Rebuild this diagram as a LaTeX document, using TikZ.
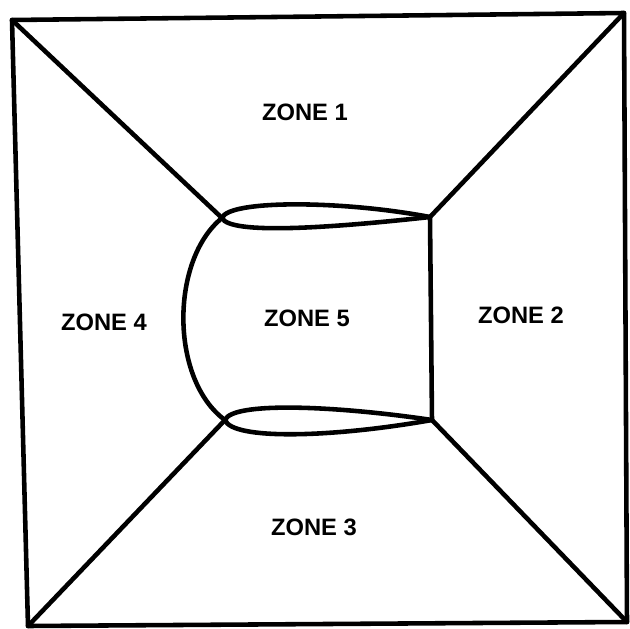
\documentclass[tikz,border=0pt]{standalone}
\usepackage{fontspec}
\setmainfont{Liberation Sans}
\usepackage{tikz}
\usetikzlibrary{calc}

\begin{document}
\begin{tikzpicture}[x=0.02cm, y=-0.02cm,
  wall/.style={draw=black, line width=2.6pt, line join=round, line cap=round},
  zone/.style={font=\fontsize{13.5}{15}\selectfont\bfseries, inner sep=0pt}
]
  \useasboundingbox (0,0) rectangle (630,629);
  % outer frame
  \coordinate (tl) at (12,20);
  \coordinate (tr) at (624,13);
  \coordinate (br) at (627,622);
  \coordinate (bl) at (28,626);
  % inner corners
  \coordinate (itl) at (222,218);
  \coordinate (itr) at (430,217);
  \coordinate (ibr) at (432,420);
  \coordinate (ibl) at (225,420);
  \draw[wall] (tl) -- (tr) -- (br) -- (bl) -- cycle;
  \draw[wall] (tl) -- (itl);
  \draw[wall] (tr) -- (itr);
  \draw[wall] (bl) -- (ibl);
  \draw[wall] (br) -- (ibr);
  \draw[wall] (itr) -- (ibr);
  \draw[wall] (itl) .. controls (170,260) and (170,380) .. (ibl);
  % upper and lower lens
  \draw[wall] (itl) .. controls (228,200) and (340,200) .. (itr);
  \draw[wall] (itl) .. controls (230,235) and (330,228) .. (itr);
  \draw[wall] (ibl) .. controls (232,402) and (330,405) .. (ibr);
  \draw[wall] (ibl) .. controls (232,440) and (330,438) .. (ibr);
  % labels
  \node[zone] (z1) at (305,112) {ZONE 1};
  \node[zone] (z2) at (521,315) {ZONE 2};
  \node[zone] (z3) at (314,527) {ZONE 3};
  \node[zone] (z4) at (104,322) {ZONE 4};
  \node[zone] (z5) at (307,318) {ZONE 5};
\end{tikzpicture}
\end{document}
